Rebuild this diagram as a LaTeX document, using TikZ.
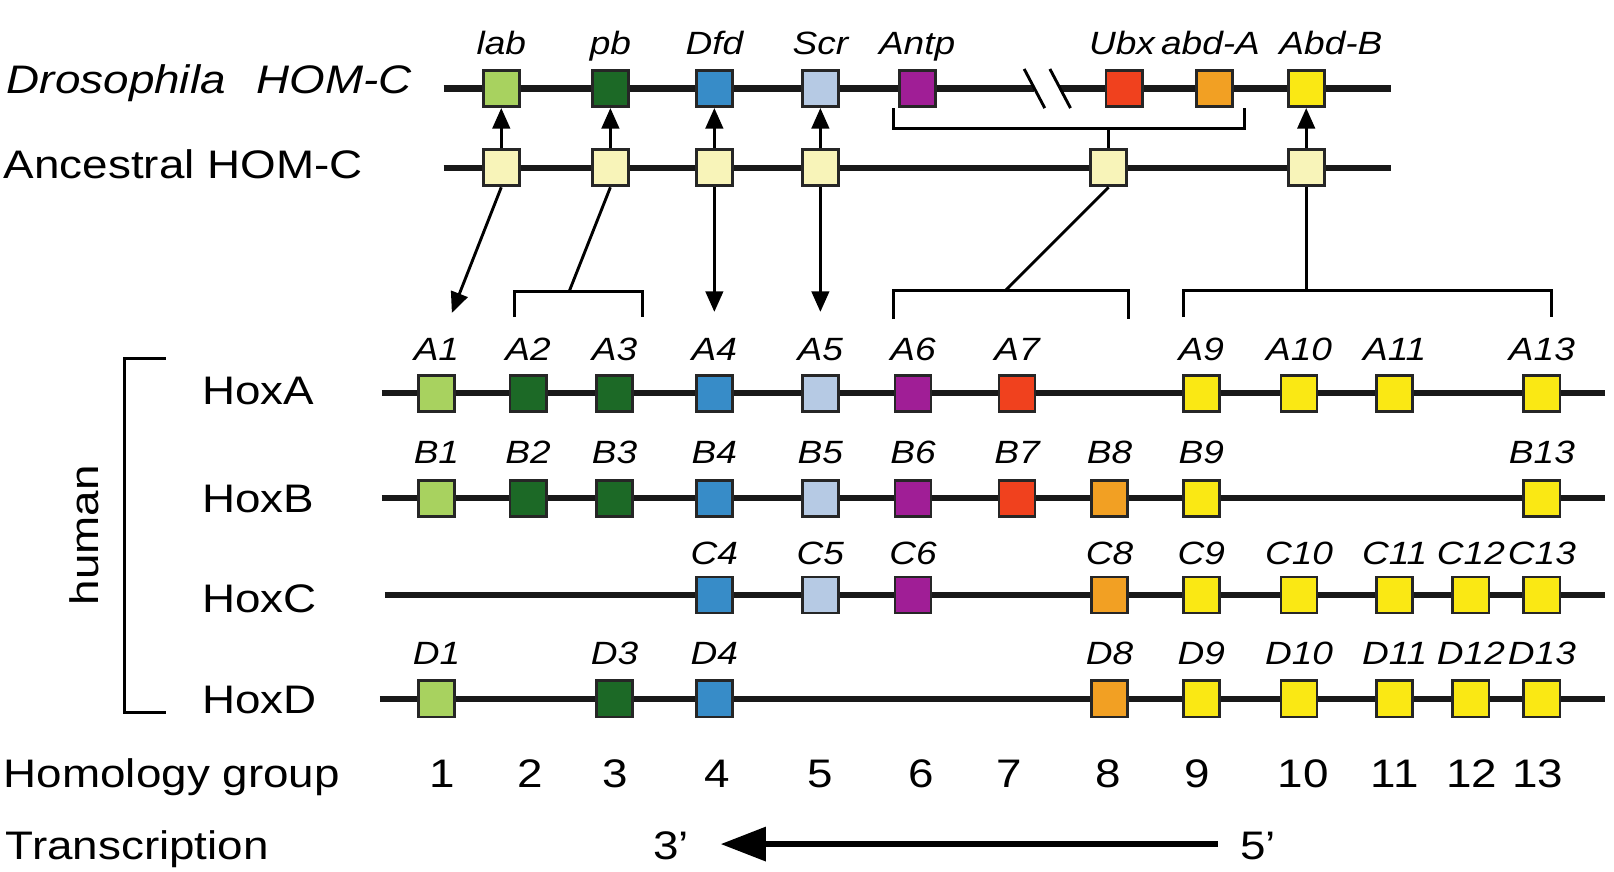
\documentclass[tikz,border=0pt]{standalone}
\usepackage{fontspec}
\setmainfont{Liberation Sans}[FakeStretch=1.15]
\usetikzlibrary{arrows.meta}
\definecolor{hg1}{RGB}{168,210,95}
\definecolor{hg2}{RGB}{28,105,38}
\colorlet{hg3}{hg2}
\definecolor{hg4}{RGB}{55,140,200}
\definecolor{hg5}{RGB}{182,202,228}
\definecolor{hg6}{RGB}{160,30,150}
\definecolor{hg7}{RGB}{240,65,30}
\definecolor{hg8}{RGB}{242,160,35}
\definecolor{hg9}{RGB}{250,232,20}
\colorlet{hg10}{hg9}
\colorlet{hg11}{hg9}
\colorlet{hg12}{hg9}
\colorlet{hg13}{hg9}
\definecolor{anc}{RGB}{248,244,185}
\newcommand\hbig{\fontsize{11pt}{13pt}\selectfont}
\newcommand\hsmall{\fontsize{8.9pt}{10pt}\selectfont}
\begin{document}
\begin{tikzpicture}[x=0.01cm,y=-0.01cm,
  gene/.style={rectangle, draw=black!85, line width=0.8pt, minimum width=0.35cm, minimum height=0.35cm, inner sep=0pt},
  chrom/.style={line width=1.7pt, draw=black!90},
  conn/.style={line width=0.8pt},
  upar/.style={conn, -{Triangle[length=0.2cm,width=0.17cm]}},
  glab/.style={font=\hsmall\itshape, inner sep=0pt, anchor=base},
  bigt/.style={font=\hbig, inner sep=0pt, anchor=base west},
  numt/.style={font=\hbig, inner sep=0pt, anchor=base},
  brk/.style={line width=0.9pt}
]
\useasboundingbox (0,0) rectangle (1568,847);

% ---------- Drosophila HOM-C ----------
\node[bigt, font=\hbig\itshape] (dros) at (6,91) {Drosophila\hspace{0.3cm}HOM-C};
\coordinate (d0) at (431,86); \coordinate (d1) at (1005,86);
\coordinate (d2) at (1030,86); \coordinate (d3) at (1351,86);
\draw[chrom] (d0) -- (d1);
\draw[chrom] (d2) -- (d3);
\coordinate (s1a) at (995,67); \coordinate (s1b) at (1015,105);
\coordinate (s2a) at (1020,67); \coordinate (s2b) at (1040,105);
\draw[conn] (s1a) -- (s1b);
\draw[conn] (s2a) -- (s2b);
\foreach \n/\x/\c in {lab/487/hg1, pb/593/hg2, Dfd/694/hg4, Scr/797/hg5, Antp/891/hg6, Ubx/1092/hg7, abdA/1180/hg8, AbdB/1269/hg9}
  \node[gene, fill=\c] (d\n) at (\x,86) {};
\foreach \n/\x/\t in {lab/487/lab, pb/593/pb, Dfd/694/Dfd, Scr/797/Scr, Antp/891/Antp, Ubx/1090/Ubx, abdA/1176/abd-A, AbdB/1293/Abd-B}
  \node[glab] (l\n) at (\x,53) {\t};

% ---------- Ancestral HOM-C ----------
\node[bigt] (ancl) at (3,173) {Ancestral HOM-C};
\coordinate (a0) at (431,163); \coordinate (a3) at (1351,163);
\draw[chrom] (a0) -- (a3);
\foreach \n/\x in {lab/487, pb/593, Dfd/694, Scr/797, Ubx/1077, AbdB/1269}
  \node[gene, fill=anc] (a\n) at (\x,163) {};
\foreach \n in {lab,pb,Dfd,Scr,AbdB}
  \draw[upar] (a\n.north) -- (d\n.south);

% bracket under Drosophila Antp..abd-A
\coordinate (db1) at (868,105); \coordinate (db2) at (868,125);
\coordinate (db3) at (1209,125); \coordinate (db4) at (1209,105);
\coordinate (dbm) at (1077,125);
\draw[brk] (db1) -- (db2) -- (db3) -- (db4);
\draw[conn] (dbm) -- (aUbx.north);

% ---------- connections to human ----------
\coordinate (labtip) at (439,304);
\draw[upar] (alab.south) -- (labtip);
\coordinate (pb1) at (500,308); \coordinate (pb2) at (500,283);
\coordinate (pb3) at (624,283); \coordinate (pb4) at (624,308);
\coordinate (pbm) at (553,283);
\draw[brk] (pb1) -- (pb2) -- (pb3) -- (pb4);
\draw[conn] (apb.south) -- (pbm);
\coordinate (dfdtip) at (694,303);
\draw[upar] (aDfd.south) -- (dfdtip);
\coordinate (scrtip) at (797,303);
\draw[upar] (aScr.south) -- (scrtip);
\coordinate (ub1) at (868,310); \coordinate (ub2) at (868,282);
\coordinate (ub3) at (1096,282); \coordinate (ub4) at (1096,310);
\coordinate (ubm) at (977,282);
\draw[brk] (ub1) -- (ub2) -- (ub3) -- (ub4);
\draw[conn] (aUbx.south) -- (ubm);
\coordinate (ab1) at (1150,308); \coordinate (ab2) at (1150,282);
\coordinate (ab3) at (1507,282); \coordinate (ab4) at (1507,308);
\coordinate (abm) at (1269,282);
\draw[brk] (ab1) -- (ab2) -- (ab3) -- (ab4);
\draw[conn] (aAbdB.south) -- (abm);

% ---------- human ----------
\coordinate (hb1) at (161,348); \coordinate (hb2) at (121,348);
\coordinate (hb3) at (121,692); \coordinate (hb4) at (161,692);
\draw[brk] (hb1) -- (hb2) -- (hb3) -- (hb4);
\node[font=\hbig, rotate=90, inner sep=0pt] (human) at (82,520) {human};

\node[bigt] (HoxA) at (196,393) {HoxA};
\node[bigt] (HoxB) at (196,498) {HoxB};
\node[bigt] (HoxC) at (196,595) {HoxC};
\node[bigt] (HoxD) at (196,693) {HoxD};

\coordinate (A0) at (371,382); \coordinate (A9) at (1559,382);
\coordinate (B0) at (371,484); \coordinate (B9) at (1559,484);
\coordinate (C0) at (374,578); \coordinate (C9) at (1559,578);
\coordinate (D0) at (369,679); \coordinate (D9) at (1559,679);
\draw[chrom] (A0) -- (A9);
\draw[chrom] (B0) -- (B9);
\draw[chrom] (C0) -- (C9);
\draw[chrom] (D0) -- (D9);

\foreach \c/\x in {1/424,2/513,3/597,4/694,5/797,6/887,7/988,9/1167,10/1262,11/1355,13/1498}{
  \node[gene, fill=hg\c] (hA\c) at (\x,382) {};
  \node[glab] (lA\c) at (\x,350) {A\c};}
\foreach \c/\x in {1/424,2/513,3/597,4/694,5/797,6/887,7/988,8/1078,9/1167,13/1498}{
  \node[gene, fill=hg\c] (hB\c) at (\x,484) {};
  \node[glab] (lB\c) at (\x,450) {B\c};}
\foreach \c/\x in {4/694,5/797,6/887,8/1078,9/1167,10/1262,11/1355,12/1429,13/1498}{
  \node[gene, fill=hg\c] (hC\c) at (\x,578) {};
  \node[glab] (lC\c) at (\x,548) {C\c};}
\foreach \c/\x in {1/424,3/597,4/694,8/1078,9/1167,10/1262,11/1355,12/1429,13/1498}{
  \node[gene, fill=hg\c] (hD\c) at (\x,679) {};
  \node[glab] (lD\c) at (\x,646) {D\c};}

% ---------- homology group ----------
\node[bigt] (homl) at (3,765) {Homology group};
\foreach \c/\x in {1/430,2/515,3/598,4/697,5/797,6/895,7/980,8/1077,9/1163,10/1266,11/1355,12/1430,13/1494}
  \node[numt] (g\c) at (\x,765) {\c};

% ---------- transcription ----------
\node[bigt] (trl) at (5,835) {Transcription};
\node[numt] (p3) at (652,835) {3'};
\node[numt] (p5) at (1222,835) {5'};
\coordinate (tr5) at (1183,820); \coordinate (tr3) at (700,820);
\draw[line width=1.8pt, -{Triangle[length=0.44cm,width=0.32cm]}] (tr5) -- (tr3);
\end{tikzpicture}
\end{document}
